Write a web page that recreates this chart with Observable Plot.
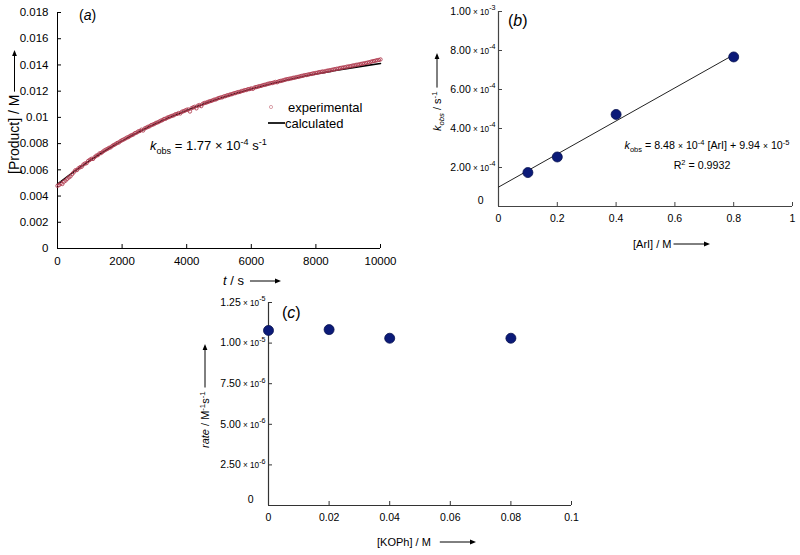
<!DOCTYPE html>
<html><head><meta charset="utf-8">
<script src="https://cdn.jsdelivr.net/npm/d3@7"></script>
<script src="https://cdn.jsdelivr.net/npm/@observablehq/plot@0.6"></script>
<style>
body{margin:0;background:#fff;}
#fig{position:relative;width:800px;height:555px;font-family:"Liberation Sans",Arial,sans-serif;background:#fff;}
#fig svg{position:absolute;overflow:visible;}
</style></head><body><div id="fig"></div>
<script>
const FONT = '"Liberation Sans", Arial, sans-serif';

// ---------- Panel (a) data ----------
const tA = d3.range(0, 10001, 50);
const expA = [
0.00478,0.00484,0.00497,0.00492,0.00510,0.00518,0.00531,0.00542,0.00550,0.00566,
0.00580,0.00596,0.00598,0.00612,0.00620,0.00624,0.00640,0.00648,0.00651,0.00668,
0.00676,0.00684,0.00683,0.00697,0.00708,0.00712,0.00725,0.00728,0.00738,0.00747,
0.00754,0.00760,0.00768,0.00772,0.00783,0.00790,0.00797,0.00805,0.00809,0.00819,
0.00826,0.00832,0.00838,0.00846,0.00850,0.00859,0.00865,0.00870,0.00880,0.00884,
0.00893,0.00896,0.00906,0.00900,0.00916,0.00921,0.00928,0.00932,0.00941,0.00945,
0.00950,0.00958,0.00962,0.00968,0.00975,0.00979,0.00988,0.00990,0.00998,0.01002,
0.01008,0.01012,0.01016,0.01024,0.01026,0.01033,0.01030,0.01043,0.01047,0.01052,
0.01058,0.01060,0.01045,0.01070,0.01076,0.01081,0.01069,0.01090,0.01094,0.01086,
0.01104,0.01110,0.01112,0.01117,0.01122,0.01125,0.01130,0.01135,0.01137,0.01143,
0.01148,0.01152,0.01153,0.01160,0.01162,0.01168,0.01170,0.01175,0.01177,0.01183,
0.01185,0.01190,0.01193,0.01195,0.01201,0.01203,0.01208,0.01209,0.01215,0.01216,
0.01221,0.01218,0.01228,0.01231,0.01234,0.01238,0.01240,0.01245,0.01248,0.01250,
0.01255,0.01258,0.01261,0.01262,0.01266,0.01270,0.01268,0.01275,0.01278,0.01280,
0.01284,0.01288,0.01291,0.01293,0.01296,0.01298,0.01302,0.01303,0.01307,0.01309,
0.01312,0.01316,0.01318,0.01322,0.01323,0.01326,0.01329,0.01331,0.01335,0.01336,
0.01339,0.01341,0.01345,0.01346,0.01350,0.01349,0.01353,0.01356,0.01358,0.01360,
0.01363,0.01366,0.01368,0.01371,0.01372,0.01377,0.01378,0.01381,0.01382,0.01386,
0.01388,0.01390,0.01392,0.01396,0.01397,0.01401,0.01402,0.01405,0.01408,0.01410,
0.01412,0.01415,0.01418,0.01420,0.01424,0.01428,0.01430,0.01433,0.01436,0.01438,
0.01442];
const tCalc = d3.range(0, 10001, 500);
const calcA = [0.00490,0.00584,0.00670,0.00749,0.00821,0.00887,0.00947,0.01003,0.01053,0.01100,
0.01142,0.01181,0.01216,0.01249,0.01278,0.01306,0.01331,0.01353,0.01374,0.01393,0.01411];
const ticksAx = [0,2000,4000,6000,8000,10000];
const ticksAy = [0,0.002,0.004,0.006,0.008,0.01,0.012,0.014,0.016,0.018];
const labelsAy = ["0","0.002","0.004","0.006","0.008","0.01","0.012","0.014","0.016","0.018"];

// ---------- Panel (b) data ----------
const arI = [0.1, 0.2, 0.4, 0.8];
const kobs = [1.74e-4, 2.54e-4, 4.72e-4, 7.67e-4];
const fitX = [0, 0.8];
const fitY = [9.94e-5, 7.78e-4];
const ticksBx = [0,0.2,0.4,0.6,0.8,1];
const labelsBx = ["0","0.2","0.4","0.6","0.8","1"];
const ticksBy = [0,2e-4,4e-4,6e-4,8e-4,1e-3];
const labelsBy = ["0","2.00 × 10-4","4.00 × 10-4","6.00 × 10-4","8.00 × 10-4","1.00 × 10-3"];

// ---------- Panel (c) data ----------
const kOPh = [0, 0.02, 0.04, 0.08];
const rate = [1.078e-5, 1.083e-5, 1.030e-5, 1.030e-5];
const ticksCx = [0,0.02,0.04,0.06,0.08,0.1];
const labelsCx = ["0","0.02","0.04","0.06","0.08","0.1"];
const ticksCy = [0,2.5e-6,5e-6,7.5e-6,1e-5,1.25e-5];
const labelsCy = ["0","2.50 × 10-6","5.00 × 10-6","7.50 × 10-6","1.00 × 10-5","1.25 × 10-5"];

const fig = document.getElementById("fig");
const lookup = (ticks, labels) => { const m = new Map(ticks.map((v,i)=>[v, labels[i]])); return d => m.get(d) ?? String(d); };

function place(svg, left, top) { svg.style.left = left + "px"; svg.style.top = top + "px"; fig.appendChild(svg); return svg; }

function richText(svg, x, y, parts, {size=11, anchor="start", rotate=0, color="#000"} = {}) {
  const t = d3.select(svg).append("text")
    .attr("transform", `translate(${x},${y}) rotate(${rotate})`)
    .attr("text-anchor", anchor).attr("font-size", size).attr("fill", color)
    .attr("font-family", FONT);
  let shift = 0;
  for (const p of parts) {
    const [s, st] = typeof p === "string" ? [p, {}] : p;
    const ts = t.append("tspan").text(s);
    const target = st.sub ? size*0.3 : st.sup ? -size*0.4 : 0;
    const dy = target - shift; if (dy) ts.attr("dy", dy); shift = target;
    if (st.sub || st.sup) ts.attr("font-size", size*0.7);
    if (st.size) ts.attr("font-size", st.size);
    if (st.i) ts.attr("font-style", "italic");
  }
  return t.node();
}

function arrow(svg, x1, y1, x2, y2, color="#000", w=1) {
  const g = d3.select(svg).append("g");
  const ang = Math.atan2(y2-y1, x2-x1), L = 6, W = 2.4;
  const bx = x2 - L*Math.cos(ang), by = y2 - L*Math.sin(ang);
  g.append("line").attr("x1", x1).attr("y1", y1).attr("x2", bx).attr("y2", by).attr("stroke", color).attr("stroke-width", w);
  g.append("path").attr("d", `M${x2},${y2}L${bx - W*Math.sin(ang)},${by + W*Math.cos(ang)}L${bx + W*Math.sin(ang)},${by - W*Math.cos(ang)}Z`).attr("fill", color);
}

function richTicks(svg, fs) {
  d3.select(svg).selectAll('g[aria-label="y-axis tick label"] text').each(function() {
    const s = this.textContent;
    const sel = d3.select(this);
    const m = s.match(/^(\S+) × 10(\S+)$/);
    if (!m) {
      if (s === "0") sel.attr("transform", (sel.attr("transform") || "") + " translate(-12,-6)");
      return;
    }
    sel.text(null);
    sel.append("tspan").text(m[1]);
    sel.append("tspan").attr("font-size", fs*0.78).text(" × 10");
    sel.append("tspan").attr("font-size", fs*0.68).attr("dy", -fs*0.42).text(m[2]);
  });
}

// ================= Panel (a) =================
{
  const W = 400, H = 290, mL = 57, mR = 20, mT = 12, mB = 42;
  const fw = W - mL - mR, fh = H - mT - mB;
  const svg = Plot.plot({
    width: W, height: H, marginLeft: mL, marginRight: mR, marginTop: mT, marginBottom: mB,
    x: {domain: [0, 10000]}, y: {domain: [0, 0.018]},
    style: {fontFamily: FONT, fontSize: "11.5px", color: "#000", background: "transparent", overflow: "visible"},
    marks: [
      Plot.ruleY(ticksAy, {y: d => d, x1: 0, x2: 10000*4/fw, stroke: "#000"}),
      Plot.ruleX(ticksAx, {x: d => d, y1: 0, y2: 0.018*4/fh, stroke: "#000"}),
      Plot.ruleX([0], {y1: 0, y2: 0.018, stroke: "#000"}),
      Plot.ruleY([0], {x1: 0, x2: 10000, stroke: "#000"}),
      Plot.axisX(ticksAx, {tickSize: 0, tickPadding: 8, tickFormat: d => String(d), label: null}),
      Plot.axisY(ticksAy, {tickSize: 0, tickPadding: 9, tickFormat: lookup(ticksAy, labelsAy), label: null}),
      Plot.line(tCalc.map((t, i) => ({t, v: calcA[i]})), {x: "t", y: "v", stroke: "#000", strokeWidth: 1.6, curve: "natural"}),
      Plot.dot(tA.map((t, i) => ({t, v: expA[i]})), {x: "t", y: "v", r: 1.7, stroke: "#b03c50", strokeWidth: 0.9, fill: "none"})
    ]
  });
  place(svg, 0, 0);
  richText(svg, 79, 20, [["(", {}], ["a", {i: true}], [")", {}]], {size: 14});
  // legend
  d3.select(svg).append("circle").attr("cx", 271).attr("cy", 107).attr("r", 1.6).attr("fill", "none").attr("stroke", "#d08a95").attr("stroke-width", 0.8);
  richText(svg, 288, 112, ["experimental"], {size: 13});
  d3.select(svg).append("line").attr("x1", 268).attr("x2", 285).attr("y1", 123).attr("y2", 123).attr("stroke", "#000").attr("stroke-width", 1.7);
  richText(svg, 285, 128, ["calculated"], {size: 13});
  richText(svg, 150, 150, [["k", {i: true}], ["obs", {sub: true}], [" = 1.77 × 10", {}], ["-4", {sup: true}], [" s", {}], ["-1", {sup: true}]], {size: 13});
  // axis labels
  const yl = richText(svg, 19, 174, ["[Product] / M"], {size: 14, rotate: -90});
  const L = yl.getComputedTextLength();
  arrow(svg, 14.5, 174 - L - 3, 14.5, 50);
  const xl = richText(svg, 223, 285, [["t", {i: true}], [" / s", {}]], {size: 13});
  const L2 = xl.getComputedTextLength();
  arrow(svg, 223 + L2 + 6, 281, 281, 281);
}

// ================= Panel (b) =================
{
  const W = 400, H = 260, mL = 98, mR = 8, mT = 11, mB = 54;
  const fw = W - mL - mR, fh = H - mT - mB;
  const axc = "#444";
  const svg = Plot.plot({
    width: W, height: H, marginLeft: mL, marginRight: mR, marginTop: mT, marginBottom: mB,
    x: {domain: [0, 1]}, y: {domain: [0, 1e-3]},
    style: {fontFamily: FONT, fontSize: "10.5px", color: "#000", background: "transparent", overflow: "visible"},
    marks: [
      Plot.ruleY(ticksBy, {y: d => d, x1: 0, x2: 4/fw, stroke: axc}),
      Plot.ruleX(ticksBx, {x: d => d, y1: 0, y2: 1e-3*4/fh, stroke: axc}),
      Plot.ruleX([0], {y1: 0, y2: 1e-3, stroke: axc, strokeWidth: 1.2}),
      Plot.ruleY([0], {x1: 0, x2: 1, stroke: axc, strokeWidth: 1.2}),
      Plot.axisX(ticksBx, {tickSize: 0, tickPadding: 8, tickFormat: lookup(ticksBx, labelsBx), label: null}),
      Plot.axisY(ticksBy, {tickSize: 0, tickPadding: 3, tickFormat: lookup(ticksBy, labelsBy), label: null}),
      Plot.line(fitX.map((x, i) => ({x, y: fitY[i]})), {x: "x", y: "y", stroke: "#222", strokeWidth: 1}),
      Plot.dot(arI.map((x, i) => ({x, y: kobs[i]})), {x: "x", y: "y", r: 5, fill: "#0b1a78", stroke: "#07114f", strokeWidth: 0.8})
    ]
  });
  place(svg, 400, 0);
  richTicks(svg, 10.5);
  richText(svg, 108, 26, [["(", {}], ["b", {i: true}], [")", {}]], {size: 16});
  richText(svg, 307, 149, [["k", {i: true}], ["obs", {sub: true}], [" = 8.48 ", {}], ["×", {size: 8.5}], [" 10", {}], ["-4", {sup: true}], [" [ArI] + 9.94 ", {}], ["×", {size: 8.5}], [" 10", {}], ["-5", {sup: true}]], {size: 10.7, anchor: "middle"});
  richText(svg, 302, 169, [["R", {}], ["2", {sup: true}], [" = 0.9932", {}]], {size: 10.7, anchor: "middle"});
  const yl = richText(svg, 41, 131, [["k", {i: true}], ["obs", {sub: true, i: true}], [" / s", {}], ["-1", {sup: true}]], {size: 11, rotate: -90});
  const L = yl.getComputedTextLength();
  arrow(svg, 37, 131 - L - 4, 37, 53);
  const xl = richText(svg, 233, 248, ["[ArI] / M"], {size: 11});
  const L2 = xl.getComputedTextLength();
  arrow(svg, 233 + L2 + 2, 244, 310, 244);
}

// ================= Panel (c) =================
{
  const W = 420, H = 275, mL = 88, mR = 29, mT = 22, mB = 50;
  const fw = W - mL - mR, fh = H - mT - mB;
  const axc = "#333";
  const svg = Plot.plot({
    width: W, height: H, marginLeft: mL, marginRight: mR, marginTop: mT, marginBottom: mB,
    x: {domain: [0, 0.1]}, y: {domain: [0, 1.25e-5]},
    style: {fontFamily: FONT, fontSize: "10.5px", color: "#000", background: "transparent", overflow: "visible"},
    marks: [
      Plot.ruleY(ticksCy, {y: d => d, x1: 0, x2: 0.1*4/fw, stroke: axc}),
      Plot.ruleX(ticksCx, {x: d => d, y1: 0, y2: 1.25e-5*4/fh, stroke: axc}),
      Plot.ruleX([0], {y1: 0, y2: 1.25e-5, stroke: axc, strokeWidth: 1.2}),
      Plot.ruleY([0], {x1: 0, x2: 0.1, stroke: axc, strokeWidth: 1.2}),
      Plot.axisX(ticksCx, {tickSize: 0, tickPadding: 8, tickFormat: lookup(ticksCx, labelsCx), label: null}),
      Plot.axisY(ticksCy, {tickSize: 0, tickPadding: 3, tickFormat: lookup(ticksCy, labelsCy), label: null}),
      Plot.dot(kOPh.map((x, i) => ({x, y: rate[i]})), {x: "x", y: "y", r: 5, fill: "#0b1a78", stroke: "#07114f", strokeWidth: 0.8})
    ]
  });
  place(svg, 180, 280);
  richTicks(svg, 10.5);
  richText(svg, 102, 38, [["(", {}], ["c", {i: true}], [")", {}]], {size: 16});
  const yl = richText(svg, 29, 168, [["rate", {i: true}], [" / M", {}], ["-1", {sup: true}], ["s", {}], ["-1", {sup: true}]], {size: 11, rotate: -90});
  const L = yl.getComputedTextLength();
  arrow(svg, 25, 168 - L - 4, 25, 64);
  const xl = richText(svg, 197, 266, ["[KOPh] / M"], {size: 11});
  const L2 = xl.getComputedTextLength();
  arrow(svg, 197 + L2 + 9, 262, 296, 262);
}
</script></body></html>
